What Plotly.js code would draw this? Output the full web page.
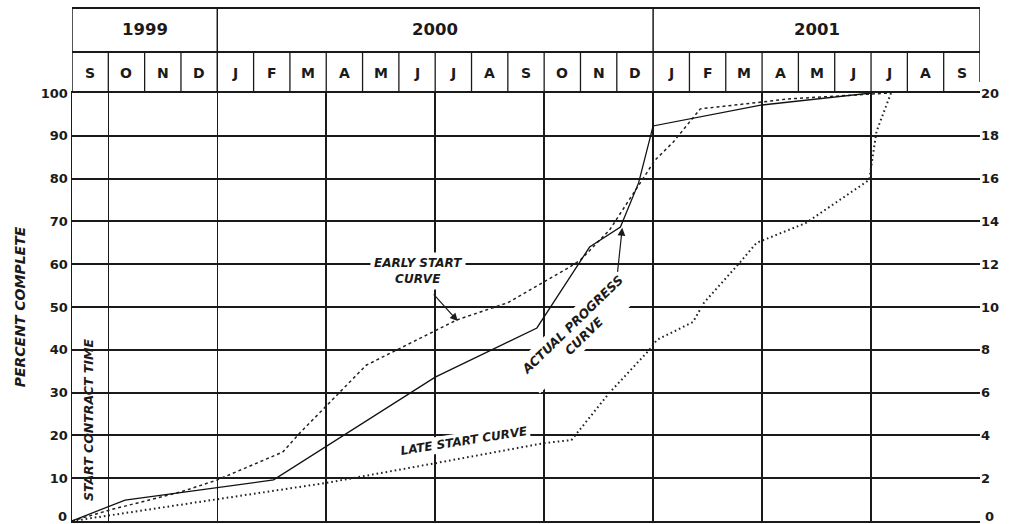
<!DOCTYPE html>
<html>
<head>
<meta charset="utf-8">
<script src="https://cdn.plot.ly/plotly-3.0.1.min.js"></script>
<style>
  html, body { margin: 0; padding: 0; background: #ffffff; }
  #chart { width: 1014px; height: 524px; }
</style>
</head>
<body>
<div id="chart"></div>
<script>
// ---- Data (x = months elapsed since start of Sep 1999) ----
const monthLabels = ['S','O','N','D','J','F','M','A','M','J','J','A','S','O','N','D','J','F','M','A','M','J','J','A','S'];
const yearLabels = ['1999', '2000', '2001'];
const yearStartMonth = [0, 4, 16];
const yearEndMonth = [4, 16, 25];

const earlyX = [0, 1.05, 3, 4, 5.8, 6.3, 8.1, 10.6, 12, 13.7, 14.0, 14.8, 15.7, 16.05, 16.55, 17.1, 17.3, 19, 19.7, 22.5];
const earlyY = [0, 2.6, 6.8, 9.6, 16.1, 20.8, 36.4, 47, 51, 59.3, 61, 68, 79.7, 84.3, 88.5, 94.4, 96.3, 97.9, 98.6, 100];

const actualX = [0, 1.46, 5.55, 10, 12.8, 14.25, 15.1, 15.6, 16, 19, 22];
const actualY = [0, 4.9, 9.6, 33.6, 45.1, 64, 68.7, 79, 92.3, 97.2, 100];

const lateX = [0, 7, 10, 13, 13.75, 13.9, 14.8, 15.9, 16.1, 17.1, 17.4, 18.4, 18.85, 20.2, 21.95, 22.15, 22.55];
const lateY = [0, 8.9, 13.5, 18.2, 18.9, 20.5, 30, 40, 42.3, 46.5, 51, 60.5, 65, 69.6, 79.7, 91, 100];

const leftTicks = [0, 10, 20, 30, 40, 50, 60, 70, 80, 90, 100];
const rightTicks = [0, 2, 4, 6, 8, 10, 12, 14, 16, 18, 20];

// ---- Styling constants ----
const FONT = '"DejaVu Sans", Verdana, sans-serif';
const INK = '#1a1a1a';
const pTop = 1 + (93 - 8) / 428;
const pMid = 1 + (93 - 52) / 428;
const pRightEnd = 1 + (93 - 82) / 428;
const pYearText = 1 + (93 - 30) / 428;
const pMonthText = 1 + (93 - 73) / 428;
const pZeroText = (521 - 516) / 428;

const tickFont = { family: FONT, size: 13, color: INK, weight: 'bold' };

const traces = [
  { x: earlyX, y: earlyY, type: 'scatter', mode: 'lines', name: 'Early start',
    line: { color: '#222', width: 1.5, dash: '3px,3px' }, hoverinfo: 'skip' },
  { x: lateX, y: lateY, type: 'scatter', mode: 'lines', name: 'Late start',
    line: { color: '#222', width: 2, dash: '1.6px,3px' }, hoverinfo: 'skip' },
  { x: actualX, y: actualY, type: 'scatter', mode: 'lines', name: 'Actual progress',
    line: { color: '#111', width: 1.3 }, hoverinfo: 'skip' },
  { x: [0, 25], y: [0, 20], yaxis: 'y2', type: 'scatter', mode: 'markers',
    marker: { opacity: 0 }, showlegend: false, hoverinfo: 'skip' }
];

const shapes = [];
const annotations = [];

// Header frame
shapes.push({ type: 'line', xref: 'x', yref: 'paper', x0: 0, x1: 25.17, y0: pTop, y1: pTop, line: { color: INK, width: 2 } });
shapes.push({ type: 'line', xref: 'x', yref: 'paper', x0: 0, x1: 25, y0: pMid, y1: pMid, line: { color: INK, width: 2 } });
shapes.push({ type: 'line', xref: 'x', yref: 'paper', x0: 0, x1: 0, y0: 1, y1: pTop, line: { color: INK, width: 1.5 } });
shapes.push({ type: 'line', xref: 'x', yref: 'paper', x0: 25, x1: 25, y0: pRightEnd, y1: pTop, line: { color: INK, width: 1.5 } });

// Year cells
yearLabels.forEach((yl, i) => {
  if (i > 0) {
    shapes.push({ type: 'line', xref: 'x', yref: 'paper', x0: yearStartMonth[i], x1: yearStartMonth[i], y0: 1, y1: pTop, line: { color: INK, width: 1.5 } });
  }
  annotations.push({ xref: 'x', yref: 'paper', x: (yearStartMonth[i] + yearEndMonth[i]) / 2, y: pYearText,
    text: yl, showarrow: false, xanchor: 'center', yanchor: 'middle',
    font: { family: FONT, size: 16.5, color: INK, weight: 'bold' } });
});

// Month cells
monthLabels.forEach((ml, i) => {
  if (i > 0 && yearStartMonth.indexOf(i) < 0) {
    shapes.push({ type: 'line', xref: 'x', yref: 'paper', x0: i, x1: i, y0: 1, y1: pMid, line: { color: INK, width: 1.3 } });
  }
  annotations.push({ xref: 'x', yref: 'paper', x: i + 0.5, y: pMonthText,
    text: ml, showarrow: false, xanchor: 'center', yanchor: 'middle',
    font: { family: FONT, size: 14, color: INK, weight: 'bold' } });
});

// Bottom "0" labels of both scales, lifted so they stay inside the picture
annotations.push({ xref: 'paper', yref: 'paper', x: 0, xshift: -3, y: pZeroText, text: String(leftTicks[0]),
  showarrow: false, xanchor: 'right', yanchor: 'middle', font: tickFont });
annotations.push({ xref: 'paper', yref: 'paper', x: 1, xshift: 3, y: pZeroText, text: String(rightTicks[0]),
  showarrow: false, xanchor: 'left', yanchor: 'middle', font: tickFont });

const labelFont = { family: FONT, size: 12, color: INK, weight: 'bold', style: 'italic' };

annotations.push({ xref: 'x', yref: 'y', x: 9.52, y: 58.4, text: 'EARLY START<br>CURVE', showarrow: false,
  bgcolor: '#ffffff', borderpad: 3, font: labelFont, align: 'center' });
annotations.push({ xref: 'x', yref: 'y', x: 10.62, y: 46.7, text: ' ', showarrow: true, ax: -26, ay: -29,
  arrowhead: 2, arrowsize: 1.3, arrowwidth: 1.2, arrowcolor: INK, font: { size: 2 } });

annotations.push({ xref: 'x', yref: 'y', x: 13.92, y: 44.6, text: 'ACTUAL PROGRESS<br>CURVE', showarrow: false,
  textangle: -44, bgcolor: '#ffffff', borderpad: 3, font: Object.assign({}, labelFont, { size: 12.5 }), align: 'center' });
annotations.push({ xref: 'x', yref: 'y', x: 15.15, y: 68.5, text: ' ', showarrow: true, ax: -5, ay: 47,
  arrowhead: 2, arrowsize: 1.3, arrowwidth: 1.2, arrowcolor: INK, font: { size: 2 } });

annotations.push({ xref: 'x', yref: 'y', x: 10.8, y: 18.6, text: 'LATE START CURVE', showarrow: false,
  textangle: -9, bgcolor: '#ffffff', borderpad: 1, font: labelFont });

annotations.push({ xref: 'x', yref: 'y', x: 0.44, y: 23.8, text: 'START CONTRACT TIME', showarrow: false,
  textangle: -90, font: Object.assign({}, labelFont, { size: 12.5 }) });

const layout = {
  width: 1014, height: 524,
  margin: { l: 72, r: 34, t: 93, b: 3, pad: 0 },
  paper_bgcolor: '#ffffff', plot_bgcolor: '#ffffff',
  showlegend: false,
  xaxis: {
    range: [0, 25], tick0: 1, dtick: 3, showgrid: true, gridcolor: INK, gridwidth: 1.5,
    showticklabels: false, ticks: '', zeroline: false,
    showline: true, mirror: true, linecolor: INK, linewidth: 2, fixedrange: true
  },
  yaxis: {
    range: [0, 100], tickvals: leftTicks,
    ticktext: leftTicks.map((v, i) => i === 0 ? '' : String(v)),
    showgrid: true, gridcolor: INK, gridwidth: 2, zeroline: false,
    showline: true, linecolor: INK, linewidth: 1.5, ticks: '',
    tickfont: tickFont,
    title: { text: 'PERCENT COMPLETE', standoff: 12,
      font: { family: FONT, size: 14, color: INK, weight: 'bold', style: 'italic' } },
    fixedrange: true
  },
  yaxis2: {
    range: [0, 20], tickvals: rightTicks,
    ticktext: rightTicks.map((v, i) => i === 0 ? '' : String(v)),
    overlaying: 'y', side: 'right', showgrid: false, zeroline: false, showline: false, ticks: '',
    tickfont: tickFont, fixedrange: true
  },
  shapes: shapes,
  annotations: annotations
};

Plotly.newPlot('chart', traces, layout, { displayModeBar: false, staticPlot: true });
</script>
</body>
</html>
